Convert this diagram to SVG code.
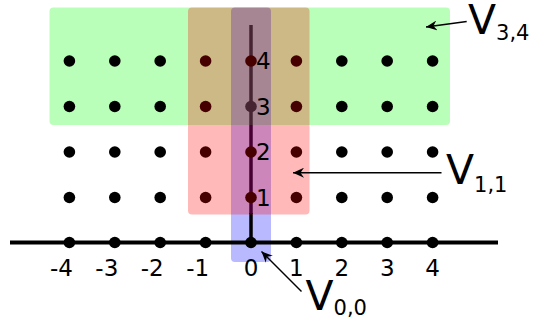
<svg xmlns="http://www.w3.org/2000/svg" width="541" height="325" viewBox="0 0 541 325">
  <style>
    .dot { fill: #000; }
    .num { font-family: "DejaVu Sans", sans-serif; font-size: 23px; fill: #000; }
    .vlab { font-family: "DejaVu Sans", sans-serif; font-size: 41px; fill: #000; }
    .sub { font-size: 21px; }
    .region { stroke: none; fill-opacity: 0.275; }
    .stem { stroke: #000; stroke-width: 3.5; }
    .pointer { stroke: #000; stroke-width: 1.4; fill: none; marker-end: url(#head); }
  </style>
  <defs>
    <marker id="head" viewBox="0 0 12 10" refX="11" refY="5" markerWidth="12" markerHeight="10" markerUnits="userSpaceOnUse" orient="auto">
      <path d="M0,0 L11,5 L0,10 L3.5,5 Z" fill="#000"/>
    </marker>
    <circle id="pt" r="5.8" class="dot"/>
  </defs>
  <rect width="541" height="325" fill="#fff"/>

  <!-- upper part of the vertical axis, lying under the shaded regions -->
  <g id="vaxis-upper">
    <line class="stem" x1="251" y1="25" x2="251" y2="214"/>
    <use href="#pt" x="251" y="106.5"/>
  </g>

  <!-- shaded regions (green and blue under the points, red over them) -->
  <g id="V34"><rect class="region" x="49.5" y="7.5" width="400.5" height="117.5" rx="4" fill="#00ff00"/></g>
  <g id="V00"><rect class="region" x="231" y="7.5" width="40" height="254.5" rx="4" fill="#0000ff"/></g>

  <!-- integer lattice points, rows 1..4 -->
  <g id="lattice">
    <g id="row4">
      <use href="#pt" x="69.4" y="61"/><use href="#pt" x="114.8" y="61"/><use href="#pt" x="160.2" y="61"/>
      <use href="#pt" x="205.6" y="61"/><use href="#pt" x="251" y="61"/><use href="#pt" x="296.4" y="61"/>
      <use href="#pt" x="341.8" y="61"/><use href="#pt" x="387.2" y="61"/><use href="#pt" x="432.6" y="61"/>
    </g>
    <g id="row3">
      <use href="#pt" x="69.4" y="106.5"/><use href="#pt" x="114.8" y="106.5"/><use href="#pt" x="160.2" y="106.5"/>
      <use href="#pt" x="205.6" y="106.5"/><use href="#pt" x="296.4" y="106.5"/>
      <use href="#pt" x="341.8" y="106.5"/><use href="#pt" x="387.2" y="106.5"/><use href="#pt" x="432.6" y="106.5"/>
    </g>
    <g id="row2">
      <use href="#pt" x="69.4" y="152"/><use href="#pt" x="114.8" y="152"/><use href="#pt" x="160.2" y="152"/>
      <use href="#pt" x="205.6" y="152"/><use href="#pt" x="251" y="152"/><use href="#pt" x="296.4" y="152"/>
      <use href="#pt" x="341.8" y="152"/><use href="#pt" x="387.2" y="152"/><use href="#pt" x="432.6" y="152"/>
    </g>
    <g id="row1">
      <use href="#pt" x="69.4" y="197.5"/><use href="#pt" x="114.8" y="197.5"/><use href="#pt" x="160.2" y="197.5"/>
      <use href="#pt" x="205.6" y="197.5"/><use href="#pt" x="251" y="197.5"/><use href="#pt" x="296.4" y="197.5"/>
      <use href="#pt" x="341.8" y="197.5"/><use href="#pt" x="387.2" y="197.5"/><use href="#pt" x="432.6" y="197.5"/>
    </g>
  </g>

  <!-- horizontal axis with its points, and the lower stub of the vertical axis -->
  <g id="axis">
    <line x1="10" y1="242.5" x2="498" y2="242.5" stroke="#000" stroke-width="4"/>
    <line class="stem" x1="251" y1="213" x2="251" y2="242.5"/>
    <use href="#pt" x="69.4" y="242.5"/><use href="#pt" x="114.8" y="242.5"/><use href="#pt" x="160.2" y="242.5"/>
    <use href="#pt" x="205.6" y="242.5"/><use href="#pt" x="251" y="242.5"/><use href="#pt" x="296.4" y="242.5"/>
    <use href="#pt" x="341.8" y="242.5"/><use href="#pt" x="387.2" y="242.5"/><use href="#pt" x="432.6" y="242.5"/>
  </g>

  <g id="V11"><rect class="region" x="188" y="7.5" width="121.5" height="207" rx="4" fill="#ff0000"/></g>

  <!-- axis numbers -->
  <g id="xlabels" class="num" text-anchor="middle">
    <text x="61.4" y="276">-4</text>
    <text x="106.8" y="276">-3</text>
    <text x="152.2" y="276">-2</text>
    <text x="197.6" y="276">-1</text>
    <text x="251" y="276">0</text>
    <text x="296.4" y="276">1</text>
    <text x="341.8" y="276">2</text>
    <text x="387.2" y="276">3</text>
    <text x="432.6" y="276">4</text>
  </g>
  <g id="ylabels" class="num">
    <text x="256" y="69">4</text>
    <text x="256" y="114.5">3</text>
    <text x="256" y="160">2</text>
    <text x="256" y="205.5">1</text>
  </g>

  <!-- region names -->
  <g id="label-V34"><text class="vlab" x="468" y="33.5">V<tspan class="sub" dy="6">3,4</tspan></text></g>
  <g id="label-V11"><text class="vlab" x="446" y="184">V<tspan class="sub" dy="8">1,1</tspan></text></g>
  <g id="label-V00"><text class="vlab" x="305.5" y="310">V<tspan class="sub" dy="5">0,0</tspan></text></g>

  <!-- pointers from names to regions -->
  <g id="connectors">
    <line class="pointer" x1="466.7" y1="21.5" x2="426" y2="27"/>
    <line class="pointer" x1="441.5" y1="172.7" x2="293" y2="172.7"/>
    <line class="pointer" x1="301.5" y1="291.5" x2="261.5" y2="251.5"/>
  </g>
</svg>
